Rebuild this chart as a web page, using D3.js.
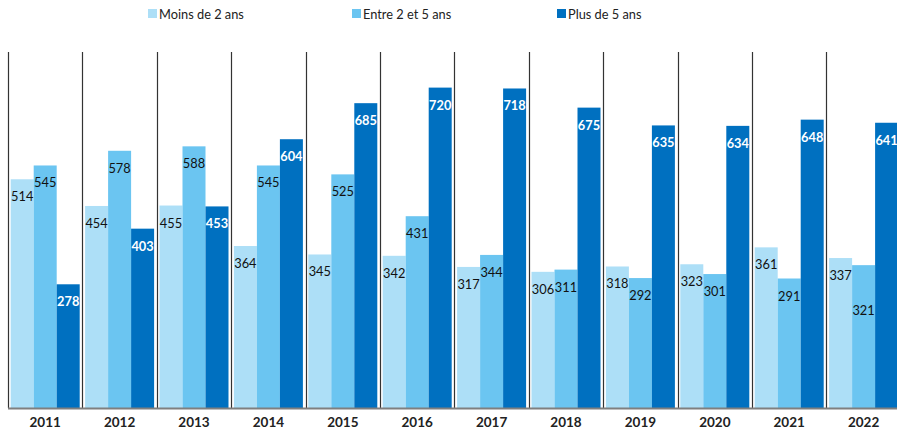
<!DOCTYPE html>
<html>
<head>
<meta charset="utf-8">
<script src="https://cdn.jsdelivr.net/npm/d3@7"></script>
<style>
  body { margin: 0; background: #fff; }
  svg { display: block; font-family: Lato, "Liberation Sans", sans-serif; }
</style>
</head>
<body>
<svg width="897" height="434"></svg>
<script>
// data
var years = ["2011","2012","2013","2014","2015","2016","2017","2018","2019","2020","2021","2022"];
var seriesNames = ["Moins de 2 ans", "Entre 2 et 5 ans", "Plus de 5 ans"];
var moins2 = [514,454,455,364,345,342,317,306,318,323,361,337];
var entre2et5 = [545,578,588,545,525,431,344,311,292,301,291,321];
var plus5 = [278,403,453,604,685,720,718,675,635,634,648,641];
var colors = ["#addff7", "#6bc5f1", "#0070c0"];

var svg = d3.select("svg");
var allSeries = [moins2, entre2et5, plus5];

var x0 = d3.scaleBand().domain(years).range([8, 900.8]).paddingInner(0);
var x1 = d3.scaleBand().domain(d3.range(3)).range([2.7, x0.bandwidth() - 2.7]);
var y = d3.scaleLinear().domain([0, 800]).range([408, 52]);

// legend
var legendX = [148, 352, 557];
var lg = svg.selectAll(".legend").data(seriesNames).enter().append("g")
    .attr("class", "legend")
    .attr("transform", function(d, i) { return "translate(" + legendX[i] + ",9)"; });
lg.append("rect").attr("width", 9).attr("height", 9).attr("fill", function(d, i) { return colors[i]; });
lg.append("text").text(function(d) { return d; })
    .attr("x", 11).attr("y", 9.5)
    .style("font-size", "12.8px").attr("fill", "#222");

// bars
var groups = svg.selectAll(".grp").data(years).enter().append("g")
    .attr("class", "grp")
    .attr("transform", function(d) { return "translate(" + x0(d) + ",0)"; });

groups.each(function(yr, gi) {
    var g = d3.select(this);
    allSeries.forEach(function(s, si) {
        var v = s[gi];
        g.append("rect")
            .attr("x", x1(si))
            .attr("width", x1.bandwidth())
            .attr("y", y(v))
            .attr("height", y(0) - y(v))
            .attr("fill", colors[si]);
        var ly = y(v) + 22;
        // the 2022 middle label sits lower in the original (avoid clash with 337)
        if (gi === 11 && si === 1) ly += 28;
        g.append("text")
            .text(v)
            .attr("x", x1(si) + x1.bandwidth() / 2)
            .attr("y", ly)
            .attr("text-anchor", "middle")
            .style("font-size", "12.8px")
            .style("font-weight", si === 2 ? "bold" : "normal")
            .attr("fill", si === 2 ? "#fff" : "#111");
    });
});

// separators between years
var seps = d3.range(years.length + 1).map(function(i) { return 8 + i * x0.step(); });
svg.selectAll(".sep").data(seps).enter().append("line")
    .attr("x1", function(d) { return Math.round(d) + 0.5; })
    .attr("x2", function(d) { return Math.round(d) + 0.5; })
    .attr("y1", y(800)).attr("y2", y(0))
    .attr("stroke", "#333").attr("stroke-width", 1.2);

// baseline
svg.append("line")
    .attr("x1", 8).attr("x2", 897)
    .attr("y1", y(0) + 0.5).attr("y2", y(0) + 0.5)
    .attr("stroke", "#7f7f7f").attr("stroke-width", 2);

// year labels
var xAxis = d3.axisBottom(x0).tickSize(0).tickPadding(9);
var ax = svg.append("g").attr("transform", "translate(0," + y(0) + ")").call(xAxis);
ax.select(".domain").remove();
ax.selectAll("text")
    .style("font-size", "13.5px")
    .style("font-weight", "bold")
    .style("font-family", "Lato, \"Liberation Sans\", sans-serif")
    .attr("fill", "#222");
</script>
</body>
</html>
